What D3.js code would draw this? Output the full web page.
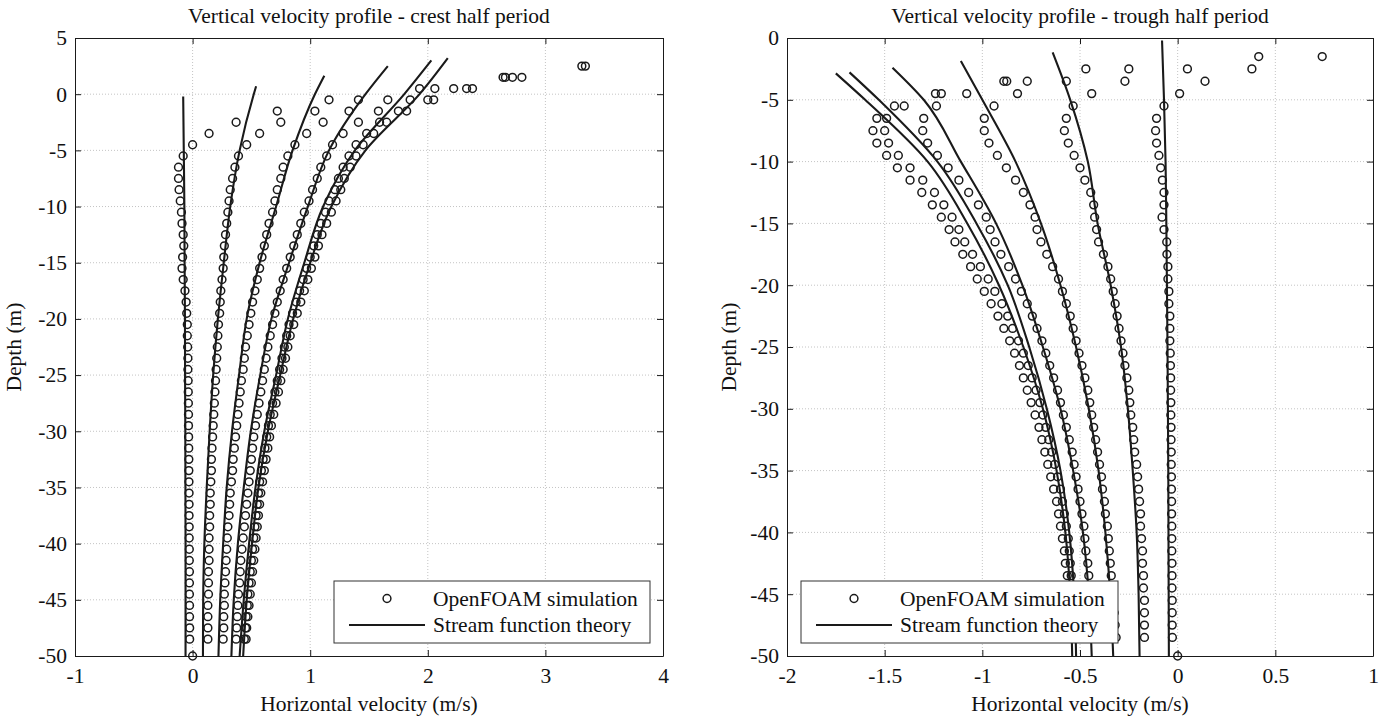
<!DOCTYPE html>
<html>
<head>
<meta charset="utf-8">
<script src="https://cdn.jsdelivr.net/npm/d3@7.9.0/dist/d3.min.js"></script>
<style>
  body { margin: 0; background: #fff; }
  svg text { font-family: "Liberation Serif", "Times New Roman", serif; fill: #111; }
</style>
</head>
<body>
<svg width="1390" height="719"></svg>
<script>
// ---- data ----

// depth of the OpenFOAM cell rows (m)
const cellDepth = [-0.5, -1.5, -2.5, -3.5, -4.5, -5.5, -6.5, -7.5, -8.5, -9.5, -10.5, -11.5, -12.5, -13.5, -14.5,
  -15.5, -16.5, -17.5, -18.5, -19.5, -20.5, -21.5, -22.5, -23.5, -24.5, -25.5, -26.5, -27.5, -28.5, -29.5,
  -30.5, -31.5, -32.5, -33.5, -34.5, -35.5, -36.5, -37.5, -38.5, -39.5, -40.5, -41.5, -42.5, -43.5, -44.5,
  -45.5, -46.5, -47.5, -48.5];

// depths where the stream function curves were read
const lineLevels = [0, -5, -10, -15, -20, -25, -30, -35, -40, -45, -50];

// crest half period - OpenFOAM
const crestSim1 = [1.16, 0.72, 0.37, 0.14, 0.00, -0.08, -0.12, -0.12, -0.115, -0.105, -0.095, -0.09, -0.08, -0.075, -0.085, -0.09, -0.08, -0.065, -0.055, -0.05, -0.045, -0.045, -0.042, -0.04, -0.04, -0.038, -0.037, -0.036, -0.035, -0.035, -0.034, -0.033, -0.032, -0.032, -0.031, -0.03, -0.03, -0.03, -0.029, -0.029, -0.028, -0.028, -0.027, -0.027, -0.027, -0.026, -0.026, -0.025, -0.025];
const crestSim2 = [1.41, 1.04, 0.75, 0.57, 0.46, 0.39, 0.36, 0.34, 0.32, 0.31, 0.30, 0.29, 0.28, 0.27, 0.265, 0.26, 0.25, 0.24, 0.235, 0.23, 0.22, 0.215, 0.21, 0.205, 0.20, 0.195, 0.19, 0.185, 0.18, 0.175, 0.17, 0.165, 0.16, 0.16, 0.155, 0.15, 0.15, 0.145, 0.145, 0.14, 0.14, 0.14, 0.135, 0.135, 0.135, 0.13, 0.13, 0.13, 0.13];
const crestSim3 = [1.66, 1.33, 1.11, 0.97, 0.87, 0.81, 0.77, 0.75, 0.72, 0.70, 0.68, 0.65, 0.63, 0.61, 0.59, 0.57, 0.55, 0.53, 0.51, 0.495, 0.48, 0.465, 0.45, 0.44, 0.43, 0.415, 0.405, 0.395, 0.385, 0.375, 0.365, 0.355, 0.345, 0.34, 0.33, 0.32, 0.315, 0.31, 0.30, 0.295, 0.29, 0.285, 0.28, 0.275, 0.27, 0.27, 0.265, 0.265, 0.26];
const crestSim4 = [1.85, 1.58, 1.41, 1.28, 1.19, 1.14, 1.09, 1.06, 1.02, 0.99, 0.95, 0.92, 0.89, 0.86, 0.83, 0.80, 0.77, 0.745, 0.72, 0.70, 0.68, 0.66, 0.64, 0.625, 0.61, 0.595, 0.58, 0.565, 0.55, 0.535, 0.52, 0.51, 0.50, 0.49, 0.48, 0.47, 0.46, 0.45, 0.44, 0.43, 0.42, 0.41, 0.405, 0.40, 0.39, 0.385, 0.38, 0.375, 0.37];
const crestSim5 = [2.00, 1.75, 1.59, 1.48, 1.39, 1.33, 1.28, 1.24, 1.21, 1.16, 1.13, 1.09, 1.06, 1.03, 1.00, 0.97, 0.94, 0.91, 0.88, 0.85, 0.82, 0.80, 0.78, 0.76, 0.74, 0.72, 0.70, 0.68, 0.66, 0.645, 0.63, 0.615, 0.60, 0.585, 0.57, 0.56, 0.55, 0.54, 0.53, 0.52, 0.51, 0.50, 0.49, 0.48, 0.47, 0.465, 0.455, 0.45, 0.44];
const crestSim6 = [2.05, 1.82, 1.65, 1.54, 1.45, 1.39, 1.34, 1.29, 1.26, 1.22, 1.18, 1.14, 1.10, 1.07, 1.04, 1.01, 0.98, 0.95, 0.92, 0.89, 0.86, 0.83, 0.81, 0.79, 0.77, 0.75, 0.73, 0.71, 0.69, 0.67, 0.655, 0.64, 0.625, 0.61, 0.595, 0.58, 0.57, 0.56, 0.55, 0.54, 0.53, 0.52, 0.51, 0.50, 0.49, 0.48, 0.47, 0.46, 0.455];
// cells above the still water level + the bed cell
const crestExtraDepth = [0.5, 0.5, 0.5, 0.5, 0.5, 1.5, 1.5, 1.5, 1.5, 2.5, 2.5, -50];
const crestExtraU = [1.93, 2.06, 2.22, 2.33, 2.38, 2.64, 2.66, 2.72, 2.80, 3.31, 3.34, 0];

// crest half period - stream function theory
const crestTopDepth = [-0.2, 0.7, 1.65, 2.5, 3.0, 3.2];
const crestTopU = [-0.08, 0.54, 1.12, 1.66, 2.03, 2.17];
const crestTheory1 = [null, -0.075, -0.07, -0.068, -0.065, -0.064, -0.062, -0.061, -0.06, -0.06, -0.06];
const crestTheory2 = [0.52, 0.40, 0.32, 0.265, 0.215, 0.175, 0.145, 0.12, 0.10, 0.09, 0.088];
const crestTheory3 = [1.04, 0.85, 0.71, 0.57, 0.46, 0.395, 0.335, 0.29, 0.26, 0.235, 0.22];
const crestTheory4 = [1.47, 1.16, 0.98, 0.82, 0.67, 0.575, 0.495, 0.435, 0.385, 0.35, 0.33];
const crestTheory5 = [1.80, 1.38, 1.11, 0.95, 0.81, 0.71, 0.61, 0.535, 0.48, 0.435, 0.40];
const crestTheory6 = [1.93, 1.47, 1.18, 1.00, 0.855, 0.745, 0.64, 0.56, 0.505, 0.46, 0.43];

// trough half period - OpenFOAM
const troughSim1 = [null, null, null, -0.89, -1.24, -1.45, -1.54, -1.56, -1.54, -1.49, -1.435, -1.37, -1.31, -1.256, -1.21, -1.17, -1.14, -1.10, -1.06, -1.026, -0.99, -0.955, -0.92, -0.89, -0.86, -0.835, -0.81, -0.79, -0.77, -0.75, -0.73, -0.71, -0.695, -0.68, -0.665, -0.65, -0.635, -0.62, -0.61, -0.60, -0.59, -0.58, -0.575, -0.565, -0.56, -0.555, -0.55, -0.545, -0.54];
const troughSim2 = [null, null, null, -0.875, -1.21, -1.40, -1.49, -1.50, -1.48, -1.43, -1.37, -1.305, -1.245, -1.197, -1.155, -1.12, -1.09, -1.05, -1.01, -0.97, -0.936, -0.90, -0.87, -0.845, -0.815, -0.79, -0.765, -0.745, -0.725, -0.705, -0.69, -0.675, -0.66, -0.645, -0.63, -0.615, -0.60, -0.59, -0.58, -0.57, -0.56, -0.555, -0.55, -0.545, -0.54, -0.535, -0.53, -0.525, -0.52];
const troughSim3 = [null, null, -0.47, -0.77, -1.08, -1.235, -1.30, -1.305, -1.28, -1.23, -1.175, -1.12, -1.07, -1.02, -0.98, -0.96, -0.935, -0.905, -0.865, -0.83, -0.80, -0.77, -0.744, -0.72, -0.695, -0.675, -0.655, -0.635, -0.615, -0.60, -0.585, -0.57, -0.555, -0.54, -0.53, -0.52, -0.51, -0.50, -0.49, -0.48, -0.475, -0.47, -0.46, -0.455, -0.45, -0.445, -0.44, -0.435, -0.43];
const troughSim4 = [null, null, -0.25, -0.57, -0.82, -0.94, -0.99, -0.99, -0.966, -0.923, -0.877, -0.83, -0.79, -0.756, -0.73, -0.72, -0.70, -0.67, -0.64, -0.61, -0.59, -0.57, -0.55, -0.535, -0.52, -0.505, -0.49, -0.475, -0.46, -0.45, -0.44, -0.43, -0.42, -0.41, -0.40, -0.39, -0.385, -0.375, -0.37, -0.36, -0.355, -0.35, -0.345, -0.34, -0.335, -0.33, -0.325, -0.32, -0.315];
const troughSim5 = [null, 0.415, 0.05, -0.27, -0.44, -0.535, -0.57, -0.58, -0.56, -0.53, -0.50, -0.475, -0.445, -0.43, -0.425, -0.415, -0.405, -0.38, -0.357, -0.343, -0.33, -0.32, -0.31, -0.30, -0.29, -0.28, -0.27, -0.26, -0.25, -0.245, -0.24, -0.23, -0.225, -0.22, -0.21, -0.205, -0.20, -0.195, -0.19, -0.19, -0.185, -0.18, -0.18, -0.175, -0.175, -0.17, -0.17, -0.17, -0.17];
const troughSim6 = [null, 0.74, 0.38, 0.14, 0.01, -0.07, -0.108, -0.113, -0.108, -0.096, -0.087, -0.078, -0.07, -0.07, -0.08, -0.07, -0.056, -0.055, -0.05, -0.05, -0.045, -0.045, -0.04, -0.04, -0.04, -0.038, -0.037, -0.036, -0.036, -0.035, -0.035, -0.034, -0.034, -0.033, -0.033, -0.032, -0.032, -0.031, -0.031, -0.030, -0.030, -0.030, -0.029, -0.029, -0.029, -0.028, -0.028, -0.028, -0.027];
const troughExtraDepth = [-50];
const troughExtraU = [0];

// trough half period - stream function theory
const troughTopDepth = [-2.86, -2.78, -2.4, -1.86, -1.16, -0.2];
const troughTopU = [-1.75, -1.68, -1.46, -1.11, -0.64, -0.08];
const troughTheory1 = [null, -1.60, -1.28, -1.077, -0.915, -0.79, -0.69, -0.62, -0.575, -0.55, -0.54];
const troughTheory2 = [null, -1.53, -1.23, -1.03, -0.87, -0.76, -0.67, -0.60, -0.555, -0.53, -0.52];
const troughTheory3 = [null, -1.30, -1.11, -0.93, -0.795, -0.69, -0.60, -0.535, -0.485, -0.455, -0.44];
const troughTheory4 = [null, -1.00, -0.83, -0.70, -0.60, -0.52, -0.455, -0.405, -0.37, -0.345, -0.33];
const troughTheory5 = [null, -0.55, -0.46, -0.41, -0.343, -0.29, -0.255, -0.23, -0.21, -0.20, -0.195];
const troughTheory6 = [null, -0.07, -0.062, -0.058, -0.055, -0.052, -0.05, -0.048, -0.047, -0.046, -0.045];

const crestXTicks = [-1, 0, 1, 2, 3, 4];
const crestYTicks = [5, 0, -5, -10, -15, -20, -25, -30, -35, -40, -45, -50];
const troughXTicks = [-2, -1.5, -1, -0.5, 0, 0.5, 1];
const troughYTicks = [0, -5, -10, -15, -20, -25, -30, -35, -40, -45, -50];

const legendLabels = ["OpenFOAM simulation", "Stream function theory"];

// ---- drawing ----
const svg = d3.select("svg");
const fontSize = 21.5;
const ink = "#1a1a1a";

function simPoints(series, extraU, extraD) {
  let pts = [];
  series.forEach(s => s.forEach((u, i) => { if (u != null) pts.push([u, cellDepth[i]]); }));
  extraU.forEach((u, i) => pts.push([u, extraD[i]]));
  return pts;
}

function theoryPoints(topD, topU, us) {
  let pts = [[topU, topD]];
  lineLevels.forEach((d, i) => { if (us[i] != null && d < topD) pts.push([us[i], d]); });
  return pts;
}

function drawPanel(p) {
  const x = d3.scaleLinear().domain(p.xDomain).range([p.left, p.right]);
  const y = d3.scaleLinear().domain(p.yDomain).range([p.bottom, p.top]);
  const g = svg.append("g");

  // dotted grid
  g.append("g").selectAll("line").data(p.xTicks.slice(1, -1)).join("line")
    .attr("x1", d => x(d)).attr("x2", d => x(d)).attr("y1", p.top).attr("y2", p.bottom)
    .attr("stroke", "#c4c4c4").attr("stroke-dasharray", "1,2");
  g.append("g").selectAll("line").data(p.yTicks.slice(1, -1)).join("line")
    .attr("y1", d => y(d)).attr("y2", d => y(d)).attr("x1", p.left).attr("x2", p.right)
    .attr("stroke", "#c4c4c4").attr("stroke-dasharray", "1,2");

  // axes with inward ticks on all four sides
  const fmt = d => String(d);
  const axes = [
    [d3.axisBottom(x).tickValues(p.xTicks).tickFormat(fmt).tickPadding(12), `translate(0,${p.bottom})`],
    [d3.axisTop(x).tickValues(p.xTicks).tickFormat(""), `translate(0,${p.top})`],
    [d3.axisLeft(y).tickValues(p.yTicks).tickFormat(fmt).tickPadding(8), `translate(${p.left},0)`],
    [d3.axisRight(y).tickValues(p.yTicks).tickFormat(""), `translate(${p.right},0)`]
  ];
  axes.forEach(([ax, tr]) => {
    const a = g.append("g").attr("transform", tr).call(ax.tickSize(-6).tickSizeOuter(0));
    a.select(".domain").attr("stroke", ink);
    a.selectAll(".tick line").attr("stroke", ink);
    a.selectAll("text").attr("font-size", fontSize).attr("fill", ink)
      .style("font-family", '"Liberation Serif", "Times New Roman", serif');
  });

  // simulation circles
  g.append("g").selectAll("circle").data(p.sim).join("circle")
    .attr("cx", d => x(d[0])).attr("cy", d => y(d[1])).attr("r", 3.9)
    .attr("fill", "none").attr("stroke", ink).attr("stroke-width", 1.5);

  // stream function curves
  const line = d3.line().x(d => x(d[0])).y(d => y(d[1])).curve(d3.curveMonotoneY);
  g.append("g").selectAll("path").data(p.theory).join("path")
    .attr("d", line).attr("fill", "none").attr("stroke", ink).attr("stroke-width", 2.1);

  // titles
  const cx = (p.left + p.right) / 2;
  g.append("text").attr("x", cx).attr("y", 23).attr("text-anchor", "middle")
    .attr("font-size", fontSize).text(p.title);
  g.append("text").attr("x", cx).attr("y", 711).attr("text-anchor", "middle")
    .attr("font-size", fontSize).text("Horizontal velocity (m/s)");
  g.append("text").attr("transform", `translate(${p.yLabelX},${(p.top + p.bottom) / 2}) rotate(-90)`)
    .attr("text-anchor", "middle").attr("font-size", fontSize).text("Depth (m)");

  // legend
  const lg = g.append("g").attr("transform", `translate(${p.legendX},581)`);
  lg.append("rect").attr("width", p.legendW).attr("height", 62)
    .attr("fill", "#fff").attr("stroke", "#333").attr("stroke-width", 1);
  lg.append("circle").attr("cx", 53).attr("cy", 17.5).attr("r", 3.9)
    .attr("fill", "none").attr("stroke", ink).attr("stroke-width", 1.5);
  lg.append("line").attr("x1", 15).attr("x2", 91).attr("y1", 44).attr("y2", 44)
    .attr("stroke", ink).attr("stroke-width", 2.1);
  lg.selectAll("text").data(legendLabels).join("text")
    .attr("x", 99).attr("y", (d, i) => i === 0 ? 17.5 : 44).attr("dy", "0.34em")
    .attr("font-size", fontSize).text(d => d);
}

const crestTheory = [crestTheory1, crestTheory2, crestTheory3, crestTheory4, crestTheory5, crestTheory6]
  .map((us, i) => theoryPoints(crestTopDepth[i], crestTopU[i], us));
const troughTheory = [troughTheory1, troughTheory2, troughTheory3, troughTheory4, troughTheory5, troughTheory6]
  .map((us, i) => theoryPoints(troughTopDepth[i], troughTopU[i], us));

drawPanel({
  title: "Vertical velocity profile - crest half period",
  left: 75, right: 663, top: 38, bottom: 656,
  xDomain: [-1, 4], yDomain: [-50, 5],
  xTicks: crestXTicks, yTicks: crestYTicks.slice().reverse(),
  sim: simPoints([crestSim1, crestSim2, crestSim3, crestSim4, crestSim5, crestSim6], crestExtraU, crestExtraDepth),
  theory: crestTheory,
  yLabelX: 21, legendX: 334, legendW: 316
});

drawPanel({
  title: "Vertical velocity profile - trough half period",
  left: 787, right: 1373, top: 38, bottom: 656,
  xDomain: [-2, 1], yDomain: [-50, 0],
  xTicks: troughXTicks, yTicks: troughYTicks.slice().reverse(),
  sim: simPoints([troughSim1, troughSim2, troughSim3, troughSim4, troughSim5, troughSim6], troughExtraU, troughExtraDepth),
  theory: troughTheory,
  yLabelX: 736, legendX: 801, legendW: 317
});
</script>
</body>
</html>
